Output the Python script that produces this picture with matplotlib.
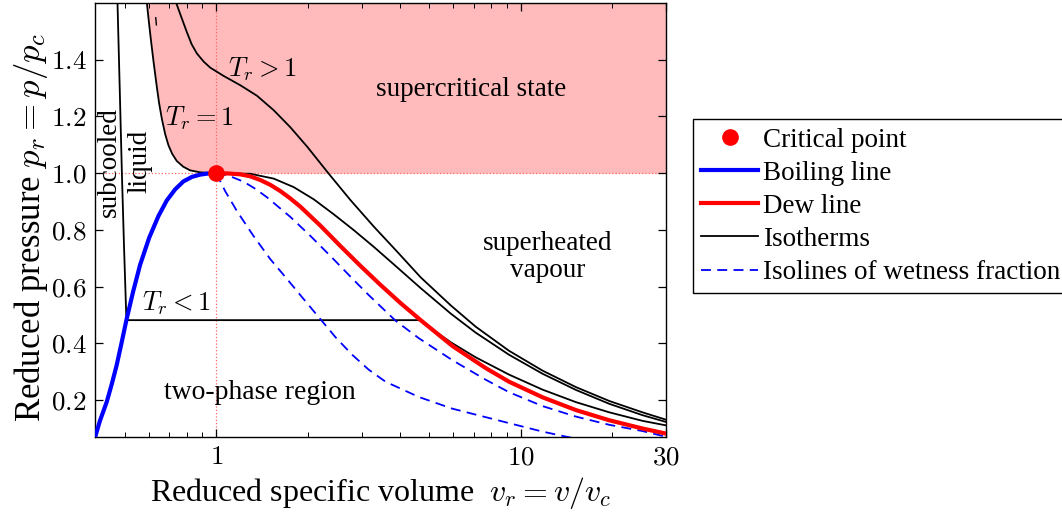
import matplotlib
matplotlib.use("Agg")
import matplotlib.pyplot as plt
from matplotlib.ticker import FuncFormatter, NullFormatter, LogLocator

plt.rcParams["font.family"] = ["Liberation Serif", "DejaVu Serif"]
plt.rcParams["mathtext.fontset"] = "cm"

# values (reduced volume v_r, reduced pressure p_r)
boil_v = [0.4, 0.415, 0.437, 0.454, 0.471, 0.487, 0.507, 0.533, 0.562, 0.602,
          0.646, 0.688, 0.733, 0.780, 0.832, 0.886, 0.941, 1.0]
boil_p = [0.069, 0.127, 0.194, 0.257, 0.323, 0.394, 0.482, 0.581, 0.676,
          0.772, 0.849, 0.904, 0.943, 0.971, 0.987, 0.995, 0.999, 1.0]

dew_v = [1.0, 1.095, 1.2, 1.294, 1.395, 1.505, 1.624, 1.751, 1.889, 2.198,
         2.558, 2.977, 3.464, 4.031, 4.69, 5.98, 7.67, 9.15, 11.79, 15.17,
         19.53, 25.1, 30]
dew_p = [1.0, 0.999, 0.996, 0.989, 0.976, 0.959, 0.937, 0.911, 0.882, 0.815,
         0.743, 0.673, 0.606, 0.542, 0.482, 0.390, 0.313, 0.265, 0.210,
         0.165, 0.129, 0.100, 0.082]

# isotherm below the critical temperature (liquid, plateau, vapour)
tlow_v = [0.474, 0.482, 0.49, 0.498, 0.507, 4.69, 5.25, 5.89, 7.11, 9.15,
          11.79, 15.17, 19.53, 25.1, 30]
tlow_p = [1.6, 1.3, 1.0, 0.74, 0.482, 0.482, 0.442, 0.404, 0.351, 0.290,
          0.237, 0.193, 0.157, 0.127, 0.111]

# critical isotherm
tcrit_v = [0.592, 0.599, 0.609, 0.622, 0.638, 0.649, 0.663, 0.680, 0.697,
           0.717, 0.742, 0.779, 0.821, 0.886, 1.0, 1.13, 1.294, 1.544, 1.796,
           2.090, 2.432, 2.831, 3.294, 3.834, 4.69, 5.89, 7.11, 9.15, 11.79,
           15.17, 19.53, 25.1, 30]
tcrit_p = [1.6, 1.547, 1.478, 1.396, 1.305, 1.248, 1.191, 1.137, 1.098,
           1.068, 1.043, 1.023, 1.010, 1.003, 1.0, 0.999, 0.998, 0.981,
           0.951, 0.908, 0.855, 0.799, 0.740, 0.678, 0.595, 0.505, 0.438,
           0.360, 0.293, 0.236, 0.187, 0.147, 0.123]

# isotherm above the critical temperature
thigh_v = [0.739, 0.761, 0.801, 0.83, 0.864, 0.91, 0.956, 1.057, 1.2, 1.361,
           1.544, 1.751, 1.987, 2.342, 2.76, 3.29, 3.93, 4.69, 5.89, 7.11,
           9.15, 11.79, 15.17, 19.53, 25.1, 30]
thigh_p = [1.6, 1.562, 1.497, 1.455, 1.422, 1.393, 1.372, 1.343, 1.31,
           1.273, 1.222, 1.162, 1.094, 0.998, 0.905, 0.812, 0.723, 0.633,
           0.534, 0.459, 0.374, 0.304, 0.246, 0.197, 0.157, 0.131]

# isolines of wetness fraction
wet1_v = [1.0, 1.071, 1.170, 1.327, 1.505, 1.708, 1.913, 2.169, 2.463, 2.795,
          3.17, 3.596, 4.63, 5.96, 7.67, 9.15, 11.79, 15.17]
wet1_p = [1.0, 0.936, 0.866, 0.778, 0.697, 0.627, 0.563, 0.493, 0.422,
          0.360, 0.307, 0.265, 0.211, 0.170, 0.140, 0.119, 0.089, 0.064]

wet2_v = [1.0, 1.095, 1.230, 1.344, 1.468, 1.751, 2.038, 2.432, 2.831, 3.17,
          3.88, 4.63, 5.96, 7.67, 9.15, 11.79, 15.17, 19.53, 25.1, 30]
wet2_p = [1.0, 0.992, 0.970, 0.945, 0.915, 0.846, 0.779, 0.696, 0.623,
          0.570, 0.480, 0.418, 0.341, 0.272, 0.228, 0.179, 0.142, 0.113,
          0.091, 0.071]

# small stray stroke visible in the original
stray_v = [0.633, 0.636]
stray_p = [1.548, 1.523]

crit_v, crit_p = 1.0, 1.0

fig = plt.figure(figsize=(10.62, 5.17), dpi=100)
ax = fig.add_axes([0.0895, 0.1547, 0.5377, 0.8395])

# supercritical region: above p_c, right of the critical isotherm
n_top = tcrit_v.index(1.0) + 1
ax.fill_betweenx(tcrit_p[:n_top], tcrit_v[:n_top], 30,
                 color="#ffbbbb", linewidth=0, zorder=0)

ax.axhline(1.0, color="#ff6666", lw=0.9, ls=":", zorder=1)
ax.axvline(1.0, color="#ff6666", lw=0.9, ls=":", zorder=1)

ax.plot(tlow_v, tlow_p, color="black", lw=1.3, zorder=2)
ax.plot(tcrit_v, tcrit_p, color="black", lw=1.3, zorder=2, label="Isotherms")
ax.plot(thigh_v, thigh_p, color="black", lw=1.3, zorder=2)
ax.plot(stray_v, stray_p, color="black", lw=1.0, zorder=2)

ax.plot(wet1_v, wet1_p, color="blue", lw=1.3, dashes=(5.5, 3.5), zorder=3,
        label="Isolines of wetness fraction")
ax.plot(wet2_v, wet2_p, color="blue", lw=1.3, dashes=(5.5, 3.5), zorder=3)

ax.plot(boil_v, boil_p, color="blue", lw=3, zorder=4, label="Boiling line")
ax.plot(dew_v, dew_p, color="red", lw=3, zorder=4, label="Dew line")
ax.plot([crit_v], [crit_p], "o", color="red", ms=11, zorder=5,
        label="Critical point", linestyle="none")

fs = 19.5
ax.text(1.09, 1.365, r"$T_r > 1$", fontsize=19, ha="left", va="center")
ax.text(0.68, 1.195, r"$T_r = 1$", fontsize=19, ha="left", va="center")
ax.text(0.571, 0.542, r"$T_r < 1$", fontsize=19, ha="left", va="center")
ax.text(6.85, 1.294, "supercritical state", fontsize=fs,
        ha="center", va="center")
ax.text(12.28, 0.706, "superheated\nvapour", fontsize=fs,
        ha="center", va="center", linespacing=1.1)
ax.text(1.395, 0.228, "two-phase region", fontsize=20,
        ha="center", va="center")
ax.text(0.502, 1.04, "subcooled\nliquid", fontsize=fs, rotation=90,
        ha="center", va="center", linespacing=1.3)

ax.set_xscale("log")
ax.set_xlim(0.4, 30)
ax.set_ylim(0.07, 1.6)
ax.set_xticks([1, 10, 30])
ax.xaxis.set_major_formatter(FuncFormatter(lambda v, _: rf"${v:g}$"))
ax.xaxis.set_minor_locator(LogLocator(base=10, subs=range(2, 10)))
ax.xaxis.set_minor_formatter(NullFormatter())
ax.set_yticks([0.2, 0.4, 0.6, 0.8, 1.0, 1.2, 1.4])
ax.yaxis.set_major_formatter(FuncFormatter(lambda v, _: rf"${v:.1f}$"))
ax.tick_params(which="both", direction="in", top=True, right=True,
               labelsize=19.5, pad=6)
ax.tick_params(which="major", length=6, width=0.9)
ax.tick_params(which="minor", length=3.5, width=0.7)
for s in ax.spines.values():
    s.set_linewidth(1.0)

ax.set_xlabel(r"Reduced specific volume  $v_r = v/v_c$", fontsize=23,
              labelpad=3)
ax.set_ylabel(r"Reduced pressure $p_r = p/p_c$", fontsize=25)
ax.yaxis.set_label_coords(-0.079, 0.484)

handles, labels = ax.get_legend_handles_labels()
order = ["Critical point", "Boiling line", "Dew line", "Isotherms",
         "Isolines of wetness fraction"]
hmap = dict(zip(labels, handles))
leg = ax.legend([hmap[k] for k in order], order, loc="center left",
                bbox_to_anchor=(0.6525, 0.601), bbox_transform=fig.transFigure,
                fontsize=19.5, frameon=True, fancybox=False, edgecolor="black",
                framealpha=1, borderaxespad=0, labelspacing=0.3,
                handlelength=2.1, handletextpad=0.2, borderpad=0.3)
leg.get_frame().set_linewidth(1.0)

fig.savefig("out.png", dpi=100)
